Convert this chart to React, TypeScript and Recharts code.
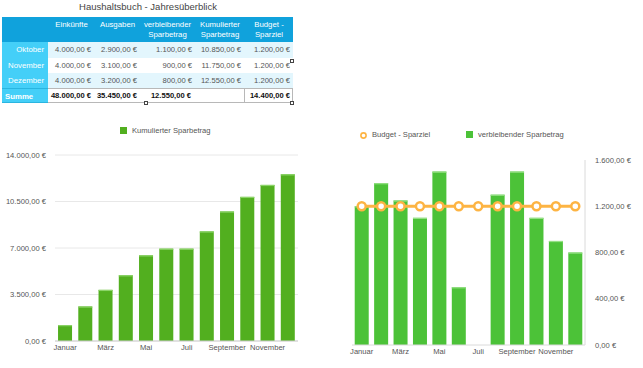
import React from "react";
import { BarChart, Bar, XAxis, YAxis, CartesianGrid, ComposedChart, Line } from "recharts";

const months = ["Januar", "Februar", "März", "April", "Mai", "Juni", "Juli", "August", "September", "Oktober", "November", "Dezember"];
const kumuliert = [1200, 2600, 3850, 4950, 6450, 6950, 6950, 8250, 9750, 10850, 11750, 12550];
const verbleibend = [1200, 1400, 1250, 1100, 1500, 500, 0, 1300, 1500, 1100, 900, 800];
const budget = [1200, 1200, 1200, 1200, 1200, 1200, 1200, 1200, 1200, 1200, 1200, 1200];
const leftTicks = [0, 3500, 7000, 10500, 14000];
const rightTicks = [0, 400, 800, 1200, 1600];

const tableHeaders = [["Einkünfte"], ["Ausgaben"], ["verbleibender", "Sparbetrag"], ["Kumulierter", "Sparbetrag"], ["Budget -", "Sparziel"]];
const tableRows = ["Oktober", "November", "Dezember"];
const tEinkuenfte = [4000, 4000, 4000];
const tAusgaben = [2900, 3100, 3200];
const tVerbleibend = [1100, 900, 800];
const tKumuliert = [10850, 11750, 12550];
const tBudget = [1200, 1200, 1200];
const sumLabel = "Summe";
const sums: (number | null)[] = [48000, 35450, 12550, null, 14400];

const title = "Haushaltsbuch - Jahresüberblick";
const legendLeft = "Kumulierter Sparbetrag";
const legendBudget = "Budget - Sparziel";
const legendVerbleibend = "verbleibender Sparbetrag";

function fmt(v: number): string {
  const neg = v < 0;
  const n = Math.abs(v);
  const int = Math.floor(n);
  const dec = Math.round((n - int) * 100);
  const s = String(int).replace(/\B(?=(\d{3})+(?!\d))/g, ".");
  return (neg ? "-" : "") + s + "," + String(dec).padStart(2, "0") + " €";
}

const data = months.map((m, i) => ({ month: m, kumuliert: kumuliert[i], verbleibend: verbleibend[i], budget: budget[i] }));

const FONT = '"Liberation Sans", Arial, Helvetica, sans-serif';
const LEFT_GREEN = "#52AF1F";
const LEFT_TOP = "#8CD468";
const RIGHT_GREEN = "#4CC238";
const RIGHT_TOP = "#95E085";
const ORANGE = "#FDB443";
const TEXT = "#555";
const FS = 7.6;

const makeShape = (fill: string, top: string) => (props: any) => {
  const { x, y, width, height } = props;
  if (!height || height <= 0) return <g />;
  return (
    <g>
      <rect x={x} y={y} width={width} height={height} fill={fill} />
      <rect x={x} y={y} width={width} height={1.2} fill={top} />
    </g>
  );
};

const LeftYTick = (props: any) => {
  const { x, y, payload } = props;
  return (
    <text x={x} y={y} dy="0.35em" textAnchor="end" fontSize={FS} fill={TEXT} fontFamily={FONT}>{fmt(payload.value)}</text>
  );
};
const RightYTick = (props: any) => {
  const { x, y, payload } = props;
  return (
    <text x={x} y={y} dy="0.35em" textAnchor="start" fontSize={FS} fill={TEXT} fontFamily={FONT}>{fmt(payload.value)}</text>
  );
};
const XTick = (props: any) => {
  const { x, y, payload } = props;
  return (
    <text x={x} y={y} dy="0.71em" textAnchor="middle" fontSize={FS} fill={TEXT} fontFamily={FONT}>{payload.value}</text>
  );
};

const colBounds = [2, 48, 95, 140, 195, 245, 293];
const padR = [4, 4, 3, 3, 4, 3];
const rowTops = [42, 57.5, 72.8, 88, 103];

function Table() {
  const cells: React.ReactNode[] = [];
  cells.push(<div key="hbg" style={{ position: "absolute", left: 2, top: 17, width: 291, height: 25, background: "#10A2DC" }} />);
  tableHeaders.forEach((h, i) => {
    const l = colBounds[i + 1];
    const w = colBounds[i + 2] - l;
    cells.push(
      <div key={"h" + i} style={{ position: "absolute", left: l, top: 20, width: w, textAlign: "center", color: "#fff", fontSize: 7.8, lineHeight: "9.5px" }}>
        {h.map((t, j) => <div key={j}>{t}</div>)}
      </div>
    );
  });
  const cols = [tEinkuenfte, tAusgaben, tVerbleibend, tKumuliert, tBudget];
  tableRows.forEach((r, ri) => {
    const top = rowTops[ri];
    const h = rowTops[ri + 1] - top;
    cells.push(<div key={"rb" + ri} style={{ position: "absolute", left: 48, top, width: 245, height: h, background: ri % 2 === 0 ? "#E3F6FD" : "#FFFFFF" }} />);
    cells.push(
      <div key={"rl" + ri} style={{ position: "absolute", left: 2, top, width: 46, height: h, background: "#44CFF8", color: "#fff", fontSize: 7.8, lineHeight: h + "px", textAlign: "right", boxSizing: "border-box", paddingRight: 4 }}>{r}</div>
    );
    cols.forEach((c, ci) => {
      const l = colBounds[ci + 1];
      const w = colBounds[ci + 2] - l;
      cells.push(
        <div key={"c" + ri + "_" + ci} style={{ position: "absolute", left: l, top, width: w, height: h, lineHeight: h + "px", textAlign: "right", boxSizing: "border-box", paddingRight: padR[ci + 1], color: TEXT, fontSize: 7.6 }}>{fmt(c[ri])}</div>
      );
    });
  });
  const st = rowTops[3];
  const sh = rowTops[4] - st;
  cells.push(<div key="sbg" style={{ position: "absolute", left: 2, top: st, width: 291, height: sh, background: "#fff", boxSizing: "border-box", border: "1px solid #B8B8B8" }} />);
  cells.push(<div key="slabel" style={{ position: "absolute", left: 2, top: st, width: 46, height: sh, background: "#44CFF8", color: "#fff", fontSize: 7.8, lineHeight: sh + "px", boxSizing: "border-box", paddingLeft: 3, borderTop: "1px solid #2AB5E0", borderBottom: "1px solid #2AB5E0", fontWeight: 600 }}>{sumLabel}</div>);
  cells.push(<div key="sdiv" style={{ position: "absolute", left: 244, top: st, width: 1, height: sh, background: "#B8B8B8" }} />);
  sums.forEach((v, ci) => {
    if (v === null) return;
    const l = colBounds[ci + 1];
    const w = colBounds[ci + 2] - l;
    cells.push(
      <div key={"s" + ci} style={{ position: "absolute", left: l, top: st, width: w, height: sh, lineHeight: sh + "px", textAlign: "right", boxSizing: "border-box", paddingRight: ci === 2 ? 4 : padR[ci + 1], color: "#111", fontSize: 7.6, fontWeight: 700 }}>{fmt(v)}</div>
    );
  });
  const handles = [[292, 61], [146, 103], [292, 103]];
  handles.forEach(([x, y], i) => {
    cells.push(<div key={"hd" + i} style={{ position: "absolute", left: x - 2, top: y - 2, width: 4, height: 4, boxSizing: "border-box", border: "1px solid #444", background: "#fff" }} />);
  });
  return <>{cells}</>;
}

export default function App() {
  return (
    <div style={{ position: "absolute", left: 0, top: 0, width: 643, height: 368, background: "#fff", fontFamily: FONT, overflow: "hidden" }}>
      <div style={{ position: "absolute", left: 0, top: 1, width: 296, textAlign: "center", fontSize: 9.5, color: "#444" }}>{title}</div>
      <Table />

      <div style={{ position: "absolute", left: 120, top: 127, width: 7, height: 7, background: LEFT_GREEN }} />
      <div style={{ position: "absolute", left: 132, top: 126, fontSize: FS, color: TEXT, lineHeight: "10px" }}>{legendLeft}</div>

      <svg style={{ position: "absolute", left: 359, top: 131 }} width={9} height={9}>
        <circle cx={4.5} cy={4.5} r={2.6} fill="#fff" stroke={ORANGE} strokeWidth={1.6} />
      </svg>
      <div style={{ position: "absolute", left: 372, top: 130, fontSize: FS, color: TEXT, lineHeight: "10px" }}>{legendBudget}</div>
      <div style={{ position: "absolute", left: 466, top: 131, width: 7, height: 7, background: RIGHT_GREEN }} />
      <div style={{ position: "absolute", left: 478, top: 130, fontSize: FS, color: TEXT, lineHeight: "10px" }}>{legendVerbleibend}</div>

      <div style={{ position: "absolute", left: 0, top: 140 }}>
        <BarChart width={310} height={225} data={data} margin={{ top: 15, right: 12, left: 0, bottom: 4 }} barCategoryGap="15%">
          <CartesianGrid vertical={false} stroke="#E8E8E8" />
          <XAxis dataKey="month" interval={1} tickLine={false} axisLine={{ stroke: "#CFCFCF" }} tick={<XTick />} tickSize={3} tickMargin={1} height={20} />
          <YAxis domain={[0, 14000]} ticks={leftTicks} tickLine={false} axisLine={false} tick={<LeftYTick />} width={55} tickSize={6} tickMargin={3} />
          <Bar dataKey="kumuliert" isAnimationActive={false} shape={makeShape(LEFT_GREEN, LEFT_TOP)} />
        </BarChart>
      </div>

      <div style={{ position: "absolute", left: 330, top: 140 }}>
        <ComposedChart width={313} height={225} data={data} margin={{ top: 20, right: 0, left: 22, bottom: 0 }} barCategoryGap="14%">
          <XAxis dataKey="month" interval={1} tickLine={false} axisLine={{ stroke: "#DADADA" }} tick={<XTick />} tickSize={3} tickMargin={1} height={20} />
          <YAxis orientation="right" domain={[0, 1600]} ticks={rightTicks} tickLine={false} axisLine={{ stroke: "#DADADA" }} tick={<RightYTick />} width={58} tickSize={6} tickMargin={4} />
          <Bar dataKey="verbleibend" isAnimationActive={false} shape={makeShape(RIGHT_GREEN, RIGHT_TOP)} />
          <Line dataKey="budget" isAnimationActive={false} stroke={ORANGE} strokeWidth={3} dot={{ r: 4, fill: "#fff", stroke: ORANGE, strokeWidth: 2.5 }} />
        </ComposedChart>
      </div>
    </div>
  );
}
